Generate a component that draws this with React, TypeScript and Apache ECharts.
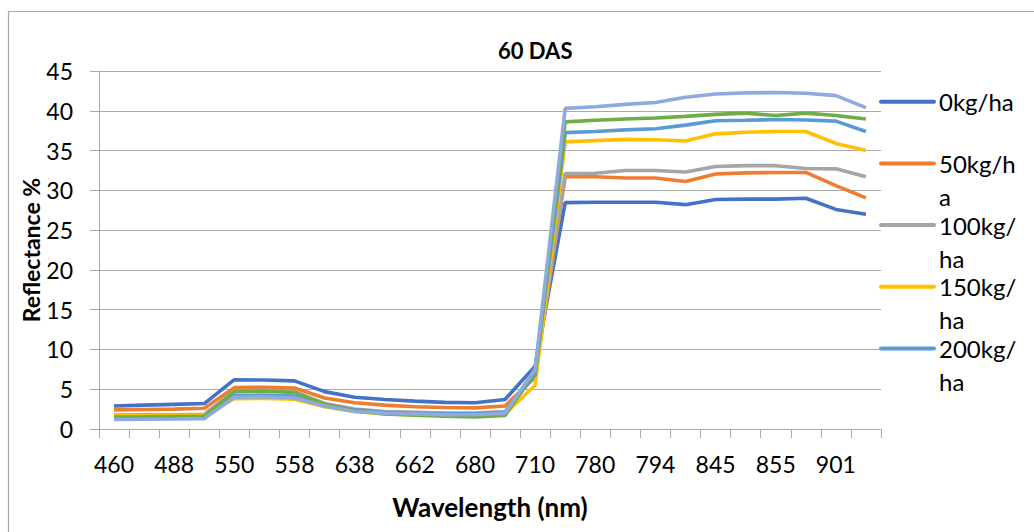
import React, { useEffect, useRef } from "react";
import * as echarts from "echarts";

const wavelengths = [
  "460", "474", "488", "510", "550", "554", "558", "600", "638", "650", "662", "672", "680",
  "695", "710", "750", "780", "787", "794", "820", "845", "850", "855", "870", "901", "915",
];

const seriesNames = ["0kg/ha", "50kg/ha", "100kg/ha", "150kg/ha", "200kg/ha", "250kg/ha", "300kg/ha"];
const legendLabels = ["0kg/ha", "50kg/h\na", "100kg/\nha", "150kg/\nha", "200kg/\nha"];
const colors = ["#4472C4", "#ED7D31", "#A5A5A5", "#FFC000", "#5B9BD5", "#70AD47", "#8FAADC"];

const s0 = [2.9, 3.0, 3.1, 3.2, 6.2, 6.15, 6.05, 4.7, 4.0, 3.7, 3.5, 3.35, 3.3, 3.7, 7.9,
  28.45, 28.5, 28.5, 28.5, 28.2, 28.85, 28.9, 28.9, 29.0, 27.6, 27.0];
const s50 = [2.4, 2.45, 2.5, 2.6, 5.2, 5.25, 5.15, 3.9, 3.3, 3.0, 2.8, 2.7, 2.65, 2.9, 6.5,
  31.7, 31.7, 31.55, 31.55, 31.1, 32.05, 32.2, 32.25, 32.25, 30.6, 29.05];
const s100 = [1.75, 1.78, 1.8, 1.85, 4.8, 4.85, 4.7, 3.2, 2.5, 2.2, 2.1, 2.0, 2.0, 2.2, 7.0,
  32.1, 32.15, 32.5, 32.5, 32.3, 33.0, 33.1, 33.1, 32.75, 32.7, 31.7];
const s150 = [1.65, 1.68, 1.7, 1.75, 3.8, 3.85, 3.75, 2.8, 2.2, 1.9, 1.8, 1.7, 1.7, 1.9, 5.5,
  36.1, 36.25, 36.4, 36.35, 36.2, 37.1, 37.3, 37.4, 37.4, 35.9, 35.0];
const s200 = [1.35, 1.37, 1.4, 1.45, 4.2, 4.25, 4.15, 3.0, 2.4, 2.1, 2.0, 1.9, 1.9, 2.1, 6.8,
  37.25, 37.4, 37.6, 37.75, 38.2, 38.75, 38.8, 38.9, 38.85, 38.7, 37.4];
const s250 = [1.5, 1.52, 1.55, 1.6, 4.7, 4.75, 4.6, 3.1, 2.3, 1.9, 1.75, 1.6, 1.5, 1.7, 7.2,
  38.6, 38.8, 38.96, 39.1, 39.3, 39.55, 39.7, 39.4, 39.7, 39.4, 38.96];
const s300 = [1.2, 1.22, 1.25, 1.3, 4.0, 4.05, 3.9, 2.9, 2.2, 2.0, 1.9, 1.8, 1.8, 2.0, 7.5,
  40.3, 40.5, 40.8, 41.05, 41.7, 42.1, 42.25, 42.3, 42.2, 41.9, 40.4];

const allSeries = [s0, s50, s100, s150, s200, s250, s300];
const yTicks = { min: 0, max: 45, interval: 5 };

const FONT = "Lato, 'Open Sans', sans-serif";
const GRID_COLOR = "#a9a9a9";

export default function App() {
  const ref = useRef<HTMLDivElement>(null);

  useEffect(() => {
    if (!ref.current) return;
    const chart = echarts.init(ref.current, undefined, { renderer: "svg" });

    const legendGraphics: any[] = [];
    legendLabels.forEach((label, i) => {
      const y = 101.7 + i * 61.7;
      legendGraphics.push({
        type: "line",
        shape: { x1: 881, y1: y, x2: 934, y2: y },
        style: { stroke: colors[i], lineWidth: 4, lineCap: "round" },
        z: 10,
      });
      legendGraphics.push({
        type: "text",
        x: 939,
        y: y - 16.5,
        style: {
          text: label,
          font: `24px ${FONT}`,
          fill: "#000",
          lineHeight: 33,
          verticalAlign: "top",
          align: "left",
        },
        z: 10,
      });
    });

    chart.setOption({
      animation: false,
      title: {
        text: "60 DAS",
        left: 493,
        top: 34,
        textStyle: { fontFamily: FONT, fontWeight: "bold", fontSize: 22, color: "#000" },
      },
      grid: { left: 99, right: 153, top: 71, bottom: 103, containLabel: false },
      xAxis: {
        type: "category",
        data: wavelengths,
        boundaryGap: true,
        name: "Wavelength (nm)",
        nameLocation: "middle",
        nameGap: 65,
        nameMoveOverlap: false,
        nameTextStyle: { fontFamily: FONT, fontWeight: "bold", fontSize: 26, color: "#000" },
        axisLine: { show: true, lineStyle: { color: GRID_COLOR, width: 1 } },
        axisTick: { show: true, interval: 0, length: 9, lineStyle: { color: GRID_COLOR } },
        axisLabel: { interval: 1, margin: 23, fontFamily: FONT, fontSize: 23, color: "#000" },
        splitLine: { show: false },
      },
      yAxis: {
        type: "value",
        min: yTicks.min,
        max: yTicks.max,
        interval: yTicks.interval,
        name: "Reflectance %",
        nameLocation: "middle",
        nameGap: 57,
        nameMoveOverlap: false,
        nameTextStyle: { fontFamily: FONT, fontWeight: "bold", fontSize: 23, color: "#000" },
        axisLine: { show: true, lineStyle: { color: GRID_COLOR, width: 1 } },
        axisTick: { show: true, length: 9, lineStyle: { color: GRID_COLOR } },
        axisLabel: { margin: 26, fontFamily: FONT, fontSize: 23, color: "#000" },
        splitLine: { show: true, lineStyle: { color: GRID_COLOR, width: 1 } },
      },
      series: allSeries.map((d, i) => ({
        type: "line",
        name: seriesNames[i],
        data: d,
        symbol: "none",
        lineStyle: { color: colors[i], width: 3.6 },
        itemStyle: { color: colors[i] },
        z: 2 + i,
      })),
      graphic: [
        {
          type: "rect",
          shape: { x: 8.5, y: 11.5, width: 1200, height: 700 },
          style: { fill: "none", stroke: "#a6a6a6", lineWidth: 1.2 },
          z: -1,
          silent: true,
        },
        ...legendGraphics,
      ],
    });

    return () => chart.dispose();
  }, []);

  return (
    <div
      ref={ref}
      style={{ position: "absolute", left: 0, top: 0, width: 1034, height: 532, background: "#fff" }}
    />
  );
}
